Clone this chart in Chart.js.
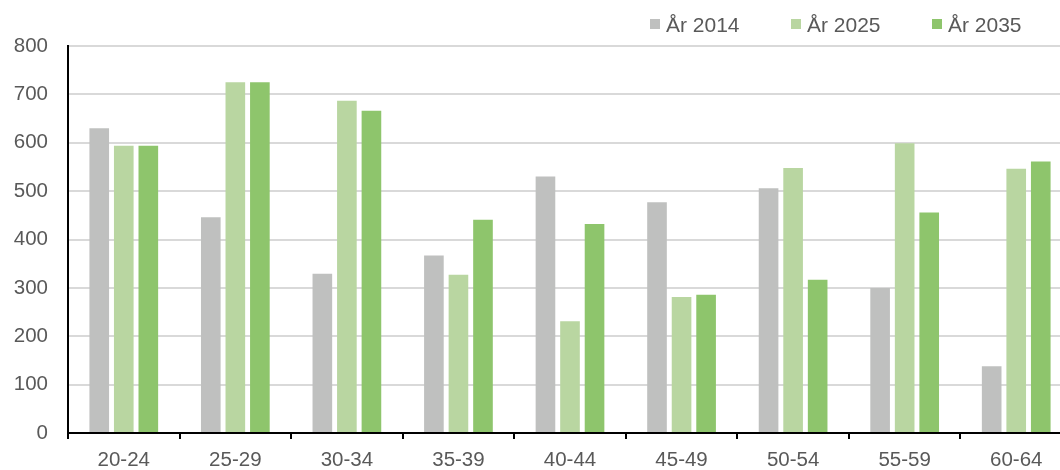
<!DOCTYPE html>
<html>
<head>
<meta charset="utf-8">
<script src="https://cdn.jsdelivr.net/npm/chart.js@4"></script>
<style>
  html, body { margin: 0; padding: 0; background: #fff; overflow: hidden; }
  #wrap { width: 1072px; height: 470px; }
</style>
</head>
<body>
<div id="wrap"><canvas id="ageChart" width="1072" height="470"></canvas></div>
<script>
const ageGroups = ['20-24', '25-29', '30-34', '35-39', '40-44', '45-49', '50-54', '55-59', '60-64'];
const year2014 = [630, 446, 329, 367, 530, 477, 506, 300, 138];
const year2025 = [594, 725, 687, 327, 231, 281, 548, 599, 546];
const year2035 = [594, 725, 666, 441, 432, 286, 317, 456, 561];
const yTicks = [0, 100, 200, 300, 400, 500, 600, 700, 800];

const textColor = '#595959';
const fontFamily = '"Liberation Sans", Arial, sans-serif';

// legend drawn top right, like the original
const topLegend = {
  id: 'topLegend',
  afterDraw(chart) {
    const ctx = chart.ctx;
    ctx.save();
    ctx.font = '21px ' + fontFamily;
    ctx.textBaseline = 'middle';
    let x = 650;
    chart.data.datasets.forEach((ds) => {
      ctx.fillStyle = ds.backgroundColor;
      ctx.fillRect(x, 19, 10, 10);
      ctx.fillStyle = textColor;
      ctx.fillText(ds.label, x + 16, 26);
      x += 141;
    });
    ctx.restore();
  }
};

const ageChart = new Chart('ageChart', {
  type: 'bar',
  data: {
    labels: ageGroups,
    datasets: [{
      label: 'År 2014',
      data: year2014,
      backgroundColor: '#bfc0bf',
    }, {
      label: 'År 2025',
      data: year2025,
      backgroundColor: '#b9d6a1',
    }, {
      label: 'År 2035',
      data: year2035,
      backgroundColor: '#8ec56c',
    }],
  },
  options: {
    responsive: false,
    animation: false,
    devicePixelRatio: 1,
    layout: {
      padding: { top: 46, right: 0, bottom: 0, left: 0 },
    },
    datasets: {
      bar: {
        categoryPercentage: 0.66,
        barPercentage: 0.8,
      },
    },
    scales: {
      x: {
        grid: {
          drawOnChartArea: false,
          drawTicks: true,
          tickLength: 6,
          color: '#000',
          lineWidth: 2,
        },
        border: { color: '#000', width: 2 },
        ticks: {
          color: textColor,
          font: { family: fontFamily, size: 20.5 },
          padding: 9,
          maxRotation: 0,
        },
        afterFit(scale) { scale.height = 37; },
      },
      y: {
        min: 0,
        max: 800,
        afterBuildTicks(scale) {
          scale.ticks = yTicks.map((v) => ({ value: v }));
        },
        grid: {
          color: '#d9d9d9',
          lineWidth: 2,
          drawTicks: false,
        },
        border: { color: '#000', width: 2 },
        ticks: {
          color: textColor,
          font: { family: fontFamily, size: 20.5 },
          padding: 20,
        },
        afterFit(scale) { scale.width = 68; },
      },
    },
    plugins: {
      legend: { display: false },
      tooltip: { enabled: false },
    },
  },
  plugins: [topLegend],
});
</script>
</body>
</html>
